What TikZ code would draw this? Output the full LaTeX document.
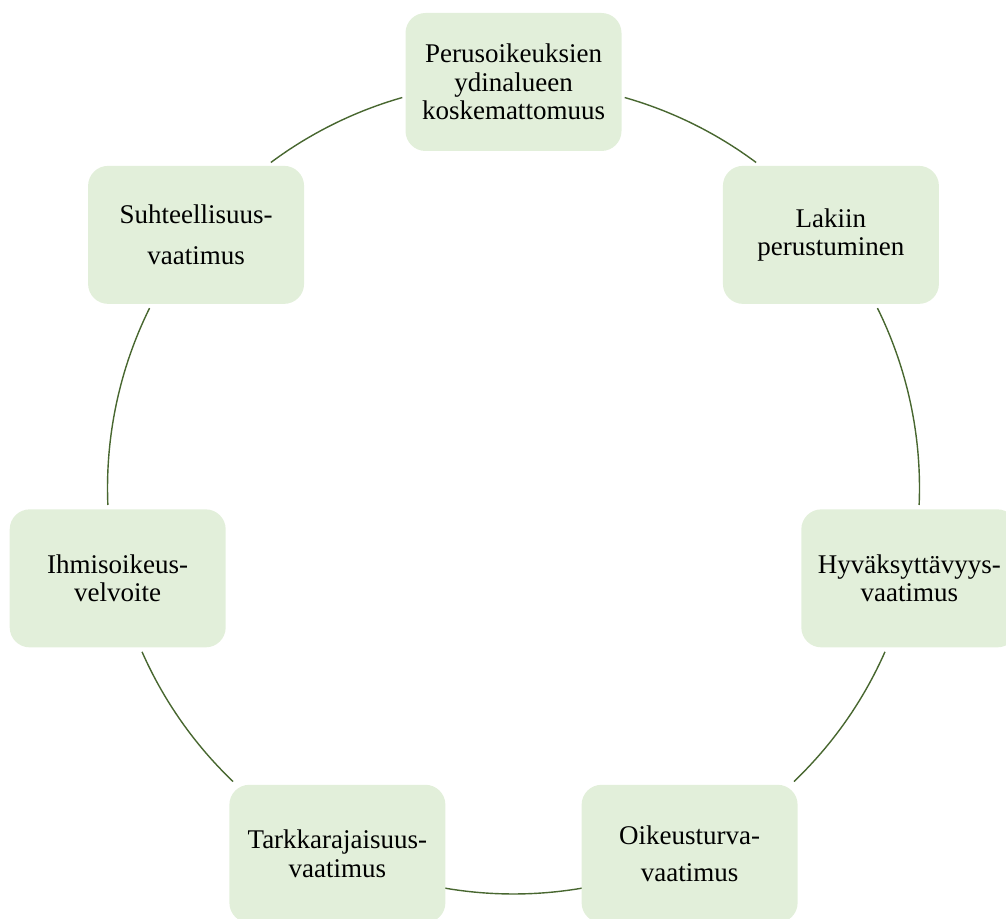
\documentclass[tikz,border=0pt]{standalone}
\usepackage{fontspec}
\setmainfont{Liberation Serif}
\definecolor{boxfill}{RGB}{226,239,218}
\definecolor{ringline}{RGB}{72,103,48}
\begin{document}
\begin{tikzpicture}[x=1pt,y=1pt,
  stepbox/.style={fill=boxfill, rounded corners=20pt, minimum width=216pt, minimum height=138pt,
    align=center, font=\fontsize{27}{28.5}\selectfont, inner sep=0pt},
  ring/.style={draw=ringline, line width=1.4pt}]
\useasboundingbox (0,0) rectangle (1006,918);
\coordinate (C) at (513.5,430);
\def\R{406}
% arcs
\draw[ring] ([shift={(74.1:\R)}]C) arc[start angle=74.1, end angle=53.3, radius=\R];
\draw[ring] ([shift={(26.3:\R)}]C) arc[start angle=26.3, end angle=-2.4, radius=\R];
\draw[ring] ([shift={(-23.8:\R)}]C) arc[start angle=-23.8, end angle=-46.3, radius=\R];
\draw[ring] ([shift={(-80.2:\R)}]C) arc[start angle=-80.2, end angle=-99.8, radius=\R];
\draw[ring] ([shift={(-133.7:\R)}]C) arc[start angle=-133.7, end angle=-156.2, radius=\R];
\draw[ring] ([shift={(182.4:\R)}]C) arc[start angle=182.4, end angle=153.7, radius=\R];
\draw[ring] ([shift={(126.7:\R)}]C) arc[start angle=126.7, end angle=105.9, radius=\R];
% nodes
\node[stepbox] (n1) at ([shift={(90:\R)}]C) {Perusoikeuksien\\ydinalueen\\koskemattomuus};
\node[stepbox] (n2) at ([shift={(38.57:\R)}]C) {Lakiin\\perustuminen};
\node[stepbox] (n3) at ([shift={(-12.86:\R)}]C) {Hyväksyttävyys-\\vaatimus};
\node[stepbox] (n4) at ([shift={(-64.29:\R)}]C) {Oikeusturva-\\[8pt]vaatimus};
\node[stepbox] (n5) at ([shift={(-115.71:\R)}]C) {Tarkkarajaisuus-\\vaatimus};
\node[stepbox] (n6) at ([shift={(-167.14:\R)}]C) {Ihmisoikeus-\\velvoite};
\node[stepbox] (n7) at ([shift={(141.43:\R)}]C) {Suhteellisuus-\\[12pt]vaatimus};
\end{tikzpicture}
\end{document}
